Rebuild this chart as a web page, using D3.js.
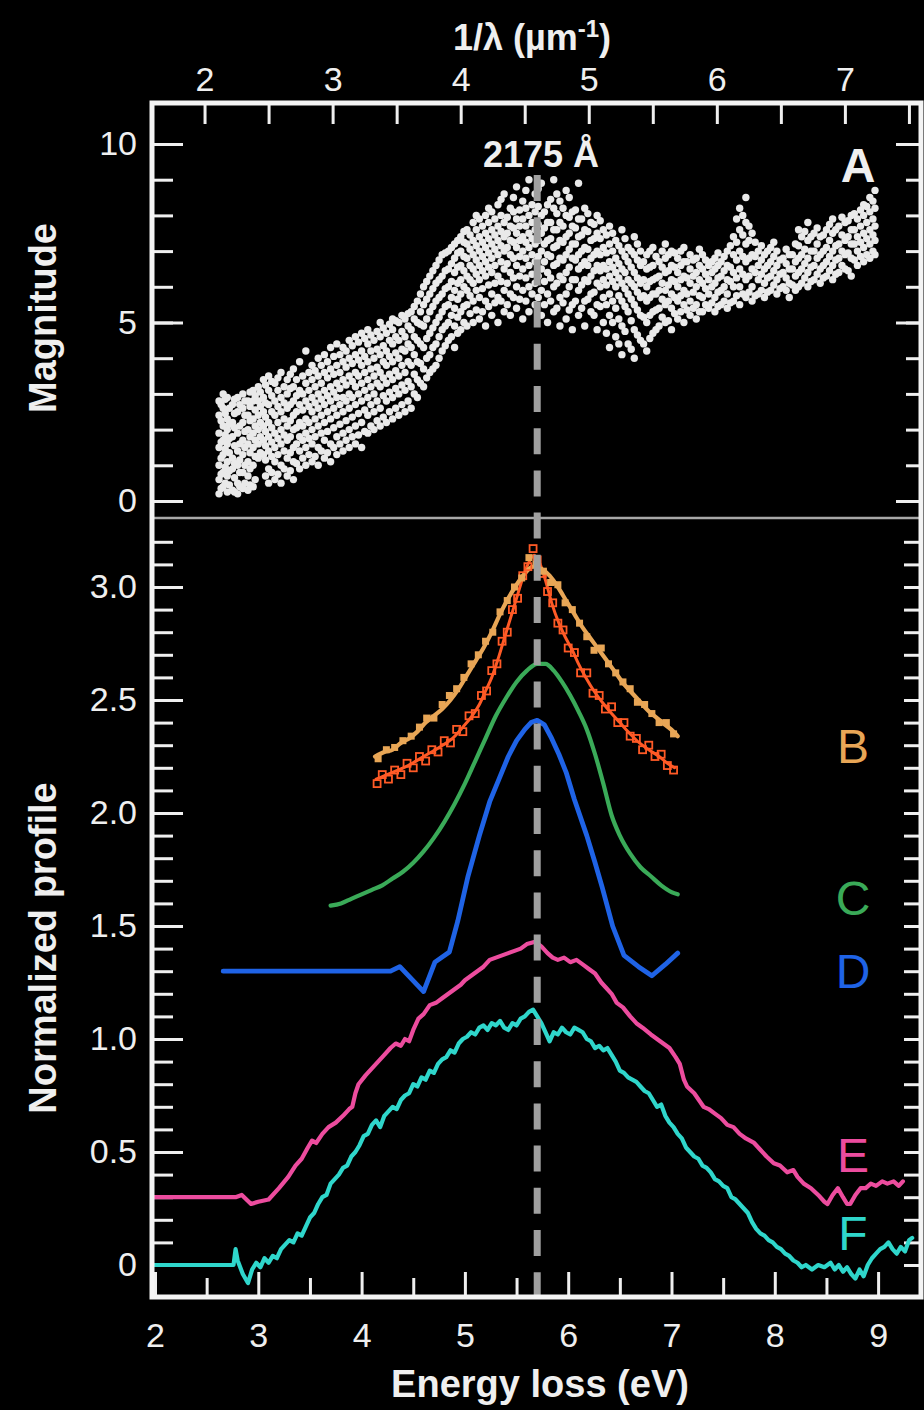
<!DOCTYPE html>
<html>
<head>
<meta charset="utf-8">
<script src="https://cdn.jsdelivr.net/npm/d3@7"></script>
<style>
  html, body { margin: 0; padding: 0; background: #000; }
  svg { display: block; }
</style>
</head>
<body>
<div id="chart"></div>
<script>

// ---- data ----

const energyTicks = [2, 3, 4, 5, 6, 7, 8, 9];
const invLambdaTicks = [2, 3, 4, 5, 6, 7];
const magnitudeTicks = [0, 5, 10];
const profileTicks = [0, 0.5, 1.0, 1.5, 2.0, 2.5, 3.0];
const seriesNames = ["B", "C", "D", "E", "F"];

// panel A scatter, one column per energy (eV): magnitudes
const magnitudeCols = [
  [2.62, [0.2, 0.6, 1.0, 1.5, 1.9, 2.4, 2.8]],
  [2.66, [0.4, 0.8, 1.3, 1.7, 2.1, 2.6, 3.0]],
  [2.70, [0.25, 0.7, 1.1, 1.6, 2.0, 2.3, 2.9]],
  [2.75, [0.3, 0.9, 1.2, 1.8, 2.2, 2.7]],
  [2.80, [0.2, 0.5, 1.0, 1.4, 1.9, 2.5, 2.9]],
  [2.85, [0.35, 0.8, 1.3, 1.7, 2.2, 2.6, 3.0]],
  [2.90, [0.3, 0.7, 1.1, 1.6, 2.0, 2.4, 2.8]],
  [2.95, [0.4, 1.0, 1.5, 1.9, 2.3, 2.8, 3.1]],
  [3.00, [1.2, 1.6, 2.0, 2.4, 2.8, 3.2]],
  [3.05, [1.3, 1.7, 2.1, 2.5, 2.9, 3.4]],
  [3.10, [0.5, 0.9, 1.4, 1.8, 2.2, 2.7, 3.1, 3.5]],
  [3.16, [0.6, 1.1, 1.5, 1.9, 2.4, 2.8, 3.3]],
  [3.22, [0.5, 1.0, 1.6, 2.0, 2.5, 2.9, 3.6]],
  [3.28, [0.7, 1.2, 1.7, 2.1, 2.6, 3.0, 3.4]],
  [3.34, [0.6, 1.1, 1.5, 2.0, 2.4, 2.8, 3.2, 3.7]],
  [3.40, [0.9, 1.4, 1.8, 2.2, 2.7, 3.1, 3.9]],
  [3.46, [1.0, 1.5, 1.9, 2.3, 2.8, 3.3, 4.2]],
  [3.52, [1.1, 1.6, 2.0, 2.5, 2.9, 3.4, 3.8]],
  [3.58, [1.0, 1.5, 2.1, 2.6, 3.0, 3.5, 4.0]],
  [3.64, [1.2, 1.7, 2.2, 2.7, 3.1, 3.6, 4.1]],
  [3.70, [1.1, 1.6, 2.3, 2.8, 3.2, 3.7, 4.3]],
  [3.76, [1.3, 1.8, 2.4, 2.9, 3.3, 3.8, 4.4]],
  [3.82, [1.4, 1.9, 2.5, 2.9, 3.4, 3.9, 4.3]],
  [3.88, [1.5, 2.0, 2.6, 3.0, 3.5, 4.0, 4.5]],
  [3.94, [1.6, 2.1, 2.7, 3.2, 3.6, 4.1, 4.6]],
  [4.00, [1.5, 2.2, 2.8, 3.3, 3.8, 4.2, 4.7]],
  [4.06, [1.9, 2.4, 2.9, 3.4, 3.9, 4.4, 4.8]],
  [4.12, [2.0, 2.5, 3.0, 3.5, 4.0, 4.5]],
  [4.18, [2.1, 2.6, 3.2, 3.6, 4.1, 4.6, 5.0]],
  [4.24, [2.2, 2.8, 3.3, 3.8, 4.2, 4.7]],
  [4.30, [2.3, 2.9, 3.4, 3.9, 4.4, 4.8, 5.1]],
  [4.36, [2.4, 3.0, 3.5, 4.0, 4.5, 5.0]],
  [4.42, [2.5, 3.1, 3.6, 4.2, 4.6, 5.1]],
  [4.48, [2.6, 3.2, 3.8, 4.3, 4.8, 5.3]],
  [4.54, [2.9, 3.4, 3.9, 4.5, 5.0, 5.6]],
  [4.60, [3.2, 3.7, 4.3, 4.9, 5.5, 6.0]],
  [4.66, [3.6, 4.1, 4.7, 5.3, 5.8, 6.3]],
  [4.72, [3.8, 4.4, 5.0, 5.6, 6.1, 6.6]],
  [4.78, [4.2, 4.8, 5.3, 5.8, 6.3, 6.9]],
  [4.84, [4.5, 5.0, 5.5, 6.0, 6.5, 7.0]],
  [4.90, [4.3, 4.9, 5.4, 5.9, 6.4, 6.8, 7.2]],
  [4.96, [4.8, 5.3, 5.8, 6.2, 6.6, 7.0, 7.4]],
  [5.02, [4.9, 5.5, 5.9, 6.3, 6.8, 7.2, 7.6]],
  [5.08, [5.0, 5.6, 6.1, 6.5, 6.9, 7.3, 7.8]],
  [5.14, [5.1, 5.7, 6.2, 6.6, 7.0, 7.4, 7.9]],
  [5.20, [4.9, 5.6, 6.3, 6.7, 7.1, 7.5, 8.0]],
  [5.26, [5.2, 5.8, 6.4, 6.8, 7.2, 7.6, 8.1]],
  [5.32, [5.0, 5.7, 6.3, 6.9, 7.3, 7.7, 8.3]],
  [5.38, [5.3, 5.9, 6.5, 7.0, 7.4, 7.8, 8.6]],
  [5.44, [5.2, 5.8, 6.4, 6.9, 7.3, 7.7, 8.2]],
  [5.50, [5.4, 6.0, 6.6, 7.1, 7.5, 7.9, 8.8]],
  [5.56, [5.1, 5.9, 6.5, 7.0, 7.4, 7.9, 8.4]],
  [5.62, [5.3, 6.0, 6.6, 7.1, 7.5, 8.0, 9.0]],
  [5.68, [5.5, 6.1, 6.7, 7.2, 7.6, 8.1, 8.6]],
  [5.74, [5.2, 5.9, 6.5, 7.0, 7.5, 8.0, 8.9]],
  [5.80, [5.0, 5.8, 6.4, 6.9, 7.3, 7.8, 8.3]],
  [5.86, [5.3, 6.0, 6.6, 7.1, 7.6, 8.2, 9.0]],
  [5.92, [4.9, 5.7, 6.3, 6.8, 7.3, 7.8, 8.4]],
  [5.98, [5.1, 5.8, 6.4, 6.9, 7.4, 8.0, 8.7]],
  [6.04, [4.8, 5.5, 6.2, 6.8, 7.2, 7.7, 8.1]],
  [6.10, [5.2, 5.9, 6.5, 6.9, 7.4, 7.9, 8.9]],
  [6.16, [4.9, 5.6, 6.2, 6.7, 7.1, 7.6, 8.2]],
  [6.22, [5.3, 5.8, 6.3, 6.8, 7.3, 7.8]],
  [6.28, [4.8, 5.5, 6.1, 6.6, 7.0, 7.5, 8.0]],
  [6.34, [5.0, 5.7, 6.2, 6.6, 7.1, 7.6]],
  [6.40, [4.3, 5.2, 5.8, 6.3, 6.7, 7.2, 7.7]],
  [6.46, [4.6, 5.4, 6.0, 6.4, 6.8, 7.3]],
  [6.52, [4.1, 4.9, 5.6, 6.1, 6.5, 7.0, 7.6]],
  [6.58, [4.4, 5.3, 5.8, 6.2, 6.7, 7.1]],
  [6.64, [4.0, 4.8, 5.5, 6.0, 6.4, 6.9, 7.4]],
  [6.70, [4.5, 5.2, 5.7, 6.1, 6.6, 7.0]],
  [6.76, [4.2, 5.0, 5.6, 6.0, 6.5, 6.9]],
  [6.82, [4.7, 5.3, 5.8, 6.2, 6.6, 7.1]],
  [6.88, [4.9, 5.4, 5.9, 6.3, 6.7]],
  [6.94, [5.0, 5.5, 5.9, 6.4, 6.8, 7.2]],
  [7.00, [4.8, 5.4, 5.8, 6.2, 6.6, 7.0]],
  [7.06, [5.1, 5.6, 6.0, 6.4, 6.8]],
  [7.12, [5.0, 5.5, 5.9, 6.3, 6.7, 7.1]],
  [7.18, [5.2, 5.6, 6.1, 6.5, 6.9]],
  [7.24, [5.1, 5.5, 6.0, 6.4, 6.8]],
  [7.30, [5.3, 5.7, 6.1, 6.5, 6.9]],
  [7.36, [5.4, 5.8, 6.2, 6.6]],
  [7.42, [5.3, 5.7, 6.1, 6.5, 6.8]],
  [7.48, [5.5, 5.9, 6.3, 6.7]],
  [7.54, [5.4, 5.8, 6.2, 6.6, 7.0]],
  [7.60, [5.6, 6.0, 6.4, 6.9, 7.4]],
  [7.66, [5.5, 6.0, 6.5, 7.0, 7.6, 8.2]],
  [7.72, [5.7, 6.2, 6.7, 7.2, 7.8, 8.5]],
  [7.78, [5.6, 6.0, 6.5, 6.9, 7.5]],
  [7.84, [5.8, 6.2, 6.6, 7.0]],
  [7.90, [5.7, 6.1, 6.5, 6.9]],
  [7.96, [5.9, 6.3, 6.7, 7.1]],
  [8.02, [5.8, 6.2, 6.6, 7.0]],
  [8.08, [6.0, 6.4, 6.8]],
  [8.14, [5.7, 6.1, 6.5, 6.9]],
  [8.20, [5.9, 6.3, 6.7, 7.2]],
  [8.26, [6.1, 6.5, 6.9, 7.4]],
  [8.32, [6.0, 6.4, 6.8, 7.3, 7.8]],
  [8.38, [6.2, 6.6, 7.0, 7.5]],
  [8.44, [6.1, 6.5, 6.9, 7.4]],
  [8.50, [6.3, 6.7, 7.1, 7.6]],
  [8.56, [6.2, 6.6, 7.0, 7.5, 7.9]],
  [8.62, [6.4, 6.8, 7.2, 7.7]],
  [8.68, [6.5, 6.9, 7.3, 7.8]],
  [8.74, [6.3, 6.8, 7.2, 7.6, 8.0]],
  [8.80, [6.6, 7.0, 7.4, 7.9]],
  [8.86, [6.7, 7.1, 7.5, 8.0, 8.3]],
  [8.92, [6.8, 7.2, 7.6, 8.1, 8.5]],
  [8.97, [6.9, 7.3, 7.7, 8.2, 8.7]]
];

// second spectrum set, sampled between the columns above
const magnitudeCols2 = [
  [2.64, [0.35, 0.75, 1.2, 1.65, 2.25, 2.7]],
  [2.68, [0.5, 0.95, 1.45, 1.85, 2.45, 2.85]],
  [2.72, [0.45, 0.85, 1.35, 1.75, 2.15, 2.6]],
  [2.77, [0.25, 0.65, 1.05, 1.55, 2.05, 2.45, 2.85]],
  [2.82, [0.4, 0.8, 1.15, 1.6, 2.1, 2.7]],
  [2.87, [0.5, 1.0, 1.5, 1.95, 2.4, 2.8]],
  [2.92, [0.45, 0.9, 1.35, 1.8, 2.25, 2.65, 3.05]],
  [2.97, [0.6, 1.25, 1.7, 2.1, 2.55, 2.95]],
  [3.02, [1.35, 1.8, 2.2, 2.65, 3.05]],
  [3.07, [0.7, 1.15, 1.55, 1.95, 2.35, 2.75, 3.25]],
  [3.13, [0.8, 1.25, 1.65, 2.05, 2.5, 2.95, 3.35]],
  [3.19, [0.75, 1.3, 1.75, 2.2, 2.65, 3.1, 3.45]],
  [3.25, [0.9, 1.4, 1.85, 2.3, 2.75, 3.2]],
  [3.31, [0.85, 1.35, 1.8, 2.25, 2.7, 3.15, 3.55]],
  [3.37, [1.05, 1.6, 2.05, 2.5, 2.95, 3.4]],
  [3.43, [1.2, 1.7, 2.1, 2.55, 3.0, 3.5]],
  [3.49, [1.3, 1.75, 2.2, 2.65, 3.1, 3.6]],
  [3.55, [1.25, 1.8, 2.3, 2.75, 3.2, 3.65]],
  [3.61, [1.4, 1.9, 2.4, 2.85, 3.3, 3.8]],
  [3.67, [1.35, 1.95, 2.5, 2.95, 3.45, 3.9]],
  [3.73, [1.5, 2.05, 2.6, 3.05, 3.55, 4.05]],
  [3.79, [1.6, 2.15, 2.7, 3.15, 3.6, 4.1]],
  [3.85, [1.7, 2.25, 2.8, 3.25, 3.75, 4.2]],
  [3.91, [1.8, 2.35, 2.9, 3.35, 3.85, 4.35]],
  [3.97, [1.85, 2.45, 3.0, 3.5, 3.95, 4.45]],
  [4.03, [1.95, 2.55, 3.1, 3.6, 4.05, 4.55]],
  [4.09, [2.1, 2.7, 3.2, 3.7, 4.2, 4.65]],
  [4.15, [2.25, 2.8, 3.3, 3.75, 4.25, 4.75]],
  [4.21, [2.35, 2.95, 3.45, 3.9, 4.35, 4.85]],
  [4.27, [2.5, 3.05, 3.55, 4.05, 4.5, 4.95]],
  [4.33, [2.6, 3.15, 3.65, 4.15, 4.6, 5.05]],
  [4.39, [2.7, 3.25, 3.8, 4.25, 4.75, 5.2]],
  [4.45, [2.8, 3.35, 3.9, 4.4, 4.9, 5.25]],
  [4.51, [3.0, 3.55, 4.1, 4.6, 5.1, 5.45]],
  [4.57, [3.3, 3.85, 4.4, 4.95, 5.3, 5.8]],
  [4.63, [3.45, 4.0, 4.55, 5.1, 5.65, 6.15]],
  [4.69, [3.7, 4.3, 4.85, 5.45, 5.95, 6.45]],
  [4.75, [4.0, 4.6, 5.15, 5.7, 6.2, 6.75]],
  [4.81, [4.35, 4.9, 5.45, 5.95, 6.45, 6.95]],
  [4.87, [4.6, 5.2, 5.7, 6.15, 6.65, 7.1]],
  [4.93, [4.7, 5.15, 5.65, 6.1, 6.55, 6.95, 7.3]],
  [4.99, [5.0, 5.45, 6.0, 6.45, 6.85, 7.25, 7.55]],
  [5.05, [5.25, 5.75, 6.2, 6.6, 7.05, 7.45]],
  [5.11, [5.35, 5.9, 6.35, 6.75, 7.15, 7.6, 8.0]],
  [5.17, [5.3, 5.95, 6.45, 6.85, 7.25, 7.7]],
  [5.23, [5.45, 6.05, 6.55, 6.95, 7.35, 7.8, 8.2]],
  [5.29, [5.55, 6.1, 6.6, 7.05, 7.45, 7.9]],
  [5.35, [5.6, 6.15, 6.7, 7.15, 7.55, 8.0, 8.45]],
  [5.41, [5.5, 6.1, 6.65, 7.1, 7.5, 7.95]],
  [5.47, [5.7, 6.25, 6.8, 7.25, 7.65, 8.1, 8.5]],
  [5.53, [5.65, 6.3, 6.85, 7.3, 7.7, 8.15]],
  [5.59, [5.6, 6.25, 6.8, 7.25, 7.7, 8.2, 8.7]],
  [5.65, [5.8, 6.35, 6.9, 7.35, 7.8, 8.3]],
  [5.71, [5.7, 6.3, 6.85, 7.3, 7.75, 8.25, 8.75]],
  [5.77, [5.5, 6.15, 6.7, 7.2, 7.65, 8.1]],
  [5.83, [5.6, 6.25, 6.85, 7.35, 7.8, 8.45]],
  [5.89, [5.4, 6.1, 6.65, 7.15, 7.6, 8.05, 8.6]],
  [5.95, [5.55, 6.2, 6.75, 7.25, 7.7, 8.2]],
  [6.01, [5.35, 6.0, 6.55, 7.05, 7.5, 7.95, 8.5]],
  [6.07, [5.6, 6.2, 6.75, 7.2, 7.65, 8.15]],
  [6.13, [5.4, 6.05, 6.6, 7.0, 7.45, 7.9]],
  [6.19, [5.65, 6.15, 6.6, 7.05, 7.55, 8.05]],
  [6.25, [5.2, 5.85, 6.45, 6.9, 7.35, 7.75]],
  [6.31, [5.45, 6.0, 6.45, 6.9, 7.35, 7.85]],
  [6.37, [4.7, 5.5, 6.05, 6.5, 6.95, 7.45]],
  [6.43, [5.0, 5.6, 6.15, 6.55, 7.0, 7.5]],
  [6.49, [4.4, 5.1, 5.75, 6.25, 6.65, 7.15]],
  [6.55, [4.75, 5.45, 5.95, 6.4, 6.85, 7.35]],
  [6.61, [4.25, 5.05, 5.65, 6.1, 6.55, 7.0]],
  [6.67, [4.65, 5.35, 5.85, 6.25, 6.75, 7.2]],
  [6.73, [4.4, 5.15, 5.75, 6.2, 6.7]],
  [6.79, [4.55, 5.2, 5.7, 6.15, 6.55, 7.0]],
  [6.85, [4.8, 5.35, 5.8, 6.25, 6.85]],
  [6.91, [5.15, 5.65, 6.1, 6.55, 7.0]],
  [6.97, [5.05, 5.6, 6.05, 6.45, 6.9]],
  [7.03, [5.25, 5.7, 6.15, 6.55, 6.95]],
  [7.09, [5.3, 5.75, 6.2, 6.6, 7.0]],
  [7.15, [5.35, 5.8, 6.25, 6.7]],
  [7.21, [5.4, 5.85, 6.3, 6.75]],
  [7.27, [5.3, 5.75, 6.2, 6.6, 7.05]],
  [7.33, [5.5, 5.95, 6.35, 6.75]],
  [7.39, [5.55, 6.0, 6.4, 6.7]],
  [7.45, [5.45, 5.85, 6.25, 6.6, 6.95]],
  [7.51, [5.6, 6.0, 6.45, 6.85]],
  [7.57, [5.55, 6.15, 6.55, 7.15]],
  [7.63, [5.75, 6.25, 6.75, 7.25, 7.9]],
  [7.69, [5.8, 6.35, 6.85, 7.45, 8.0]],
  [7.75, [5.85, 6.3, 6.8, 7.3, 7.7]],
  [7.81, [5.75, 6.4, 6.85, 7.25]],
  [7.87, [5.9, 6.35, 6.75, 7.15]],
  [7.93, [5.85, 6.25, 6.6, 7.0]],
  [7.99, [6.05, 6.45, 6.85, 7.25]],
  [8.05, [5.95, 6.35, 6.75]],
  [8.11, [5.9, 6.25, 6.65, 7.05]],
  [8.17, [6.05, 6.5, 6.9]],
  [8.23, [6.0, 6.4, 6.8, 7.15, 7.6]],
  [8.29, [6.25, 6.65, 7.05, 7.55]],
  [8.35, [6.15, 6.55, 7.0, 7.4]],
  [8.41, [6.35, 6.8, 7.2, 7.65]],
  [8.47, [6.25, 6.6, 7.0, 7.45]],
  [8.53, [6.45, 6.85, 7.3, 7.75]],
  [8.59, [6.35, 6.75, 7.15, 7.6]],
  [8.65, [6.6, 7.0, 7.45, 7.95]],
  [8.71, [6.45, 6.95, 7.4, 7.85]],
  [8.77, [6.75, 7.2, 7.6, 8.05]],
  [8.83, [6.85, 7.25, 7.7, 8.15]],
  [8.89, [6.9, 7.35, 7.8, 8.25]],
  [8.95, [7.0, 7.45, 7.9, 8.4]]
];

// B: measured profile (filled squares) and its fit
const tanData = [
  [4.16, 2.24], [4.24, 2.28], [4.32, 2.29], [4.40, 2.32], [4.48, 2.34], [4.56, 2.38],
  [4.63, 2.42], [4.70, 2.42], [4.78, 2.48], [4.85, 2.52], [4.92, 2.55], [4.99, 2.60],
  [5.06, 2.66], [5.13, 2.70], [5.20, 2.76], [5.27, 2.80], [5.34, 2.89], [5.41, 2.94],
  [5.48, 3.00], [5.55, 3.04], [5.62, 3.13], [5.69, 3.10], [5.76, 3.07], [5.83, 3.02],
  [5.90, 3.01], [5.97, 2.93], [6.04, 2.90], [6.11, 2.84], [6.18, 2.78], [6.25, 2.72],
  [6.32, 2.73], [6.39, 2.66], [6.46, 2.62], [6.53, 2.58], [6.60, 2.55], [6.67, 2.49],
  [6.74, 2.48], [6.81, 2.44], [6.88, 2.40], [6.95, 2.40], [7.02, 2.35]
];
const tanFit = [
  [4.13, 2.25], [4.22, 2.27], [4.30, 2.28], [4.38, 2.31], [4.46, 2.33], [4.54, 2.36],
  [4.62, 2.40], [4.70, 2.43], [4.78, 2.46], [4.86, 2.50], [4.94, 2.55], [5.02, 2.61],
  [5.10, 2.67], [5.18, 2.73], [5.26, 2.80], [5.34, 2.88], [5.42, 2.95], [5.50, 3.01],
  [5.58, 3.06], [5.66, 3.09], [5.74, 3.08], [5.82, 3.05], [5.90, 3.00], [5.98, 2.94],
  [6.06, 2.88], [6.14, 2.82], [6.22, 2.77], [6.30, 2.72], [6.38, 2.67], [6.46, 2.62],
  [6.54, 2.57], [6.62, 2.53], [6.70, 2.49], [6.78, 2.45], [6.86, 2.42], [6.94, 2.39],
  [7.02, 2.36], [7.06, 2.34]
];

// B: second profile (open squares) and its fit
const orangeData = [
  [4.15, 2.13], [4.20, 2.17], [4.26, 2.15], [4.32, 2.19], [4.38, 2.17], [4.44, 2.22],
  [4.50, 2.20], [4.56, 2.25], [4.62, 2.23], [4.68, 2.28], [4.74, 2.27], [4.80, 2.32],
  [4.86, 2.31], [4.92, 2.37], [4.98, 2.36], [5.04, 2.43], [5.10, 2.44], [5.16, 2.52],
  [5.21, 2.54], [5.26, 2.63], [5.31, 2.66], [5.36, 2.76], [5.41, 2.80], [5.46, 2.90],
  [5.51, 2.95], [5.56, 3.05], [5.61, 3.09], [5.66, 3.17], [5.70, 3.12], [5.75, 3.06],
  [5.80, 2.98], [5.85, 2.93], [5.90, 2.84], [5.95, 2.81], [6.00, 2.73], [6.06, 2.71],
  [6.12, 2.62], [6.18, 2.62], [6.24, 2.53], [6.30, 2.52], [6.36, 2.46], [6.42, 2.47],
  [6.48, 2.40], [6.54, 2.40], [6.60, 2.34], [6.66, 2.33], [6.72, 2.28], [6.78, 2.30],
  [6.84, 2.25], [6.90, 2.26], [6.96, 2.21], [7.02, 2.19]
];
const orangeFit = [
  [4.14, 2.15], [4.30, 2.18], [4.45, 2.21], [4.60, 2.25], [4.75, 2.29], [4.88, 2.33],
  [4.98, 2.38], [5.07, 2.43], [5.14, 2.48], [5.20, 2.54], [5.26, 2.60], [5.32, 2.68],
  [5.38, 2.77], [5.44, 2.86], [5.50, 2.95], [5.56, 3.04], [5.62, 3.11], [5.67, 3.14],
  [5.72, 3.11], [5.78, 3.03], [5.84, 2.93], [5.91, 2.84], [5.97, 2.78], [6.04, 2.72],
  [6.10, 2.66], [6.17, 2.60], [6.25, 2.54], [6.33, 2.49], [6.42, 2.44], [6.50, 2.40],
  [6.60, 2.35], [6.69, 2.31], [6.78, 2.28], [6.88, 2.25], [6.96, 2.22], [7.03, 2.20]
];

const greenC = [
  [3.70, 1.59], [3.80, 1.60], [3.90, 1.62], [4.00, 1.64], [4.10, 1.66], [4.20, 1.68],
  [4.30, 1.71], [4.40, 1.74], [4.50, 1.78], [4.60, 1.83], [4.70, 1.89], [4.80, 1.96],
  [4.90, 2.04], [5.00, 2.13], [5.10, 2.23], [5.20, 2.33], [5.30, 2.43], [5.40, 2.51],
  [5.50, 2.58], [5.60, 2.63], [5.70, 2.66], [5.78, 2.66], [5.86, 2.63], [5.94, 2.58],
  [6.02, 2.52], [6.10, 2.45], [6.18, 2.37], [6.26, 2.26], [6.34, 2.13], [6.42, 1.99],
  [6.50, 1.90], [6.60, 1.82], [6.70, 1.76], [6.80, 1.72], [6.90, 1.68], [7.00, 1.65],
  [7.06, 1.64]
];

const blueD = [
  [2.66, 1.30], [3.50, 1.30], [4.28, 1.30], [4.37, 1.32], [4.60, 1.21], [4.71, 1.34],
  [4.85, 1.385], [4.93, 1.52], [5.03, 1.72], [5.14, 1.90], [5.24, 2.05], [5.33, 2.15],
  [5.42, 2.25], [5.50, 2.32], [5.58, 2.37], [5.64, 2.40], [5.70, 2.41], [5.77, 2.39],
  [5.84, 2.33], [5.91, 2.26], [5.98, 2.18], [6.06, 2.06], [6.18, 1.90], [6.26, 1.78],
  [6.33, 1.67], [6.43, 1.50], [6.54, 1.37], [6.68, 1.32], [6.81, 1.28], [6.94, 1.33],
  [7.06, 1.38]
];

const pinkE = [
  [1.97, 0.30], [2.40, 0.30], [2.78, 0.30], [2.84, 0.31], [2.93, 0.27], [3.00, 0.28],
  [3.10, 0.29], [3.20, 0.34], [3.29, 0.39], [3.36, 0.44], [3.42, 0.47], [3.48, 0.52],
  [3.52, 0.55], [3.56, 0.54], [3.62, 0.58], [3.68, 0.61], [3.75, 0.63], [3.82, 0.66],
  [3.88, 0.69], [3.91, 0.70], [3.94, 0.76], [3.97, 0.80], [4.04, 0.84], [4.10, 0.87],
  [4.16, 0.90], [4.22, 0.93], [4.28, 0.96], [4.33, 0.98], [4.38, 0.97], [4.42, 1.00],
  [4.46, 0.99], [4.50, 1.04], [4.55, 1.09], [4.60, 1.11], [4.66, 1.15], [4.72, 1.16],
  [4.78, 1.18], [4.84, 1.20], [4.90, 1.22], [4.96, 1.24], [5.00, 1.26], [5.06, 1.28],
  [5.12, 1.30], [5.18, 1.32], [5.24, 1.35], [5.30, 1.36], [5.36, 1.37], [5.42, 1.38],
  [5.48, 1.39], [5.54, 1.40], [5.60, 1.42], [5.68, 1.43], [5.74, 1.41], [5.80, 1.38],
  [5.85, 1.36], [5.90, 1.35], [5.96, 1.36], [6.02, 1.34], [6.08, 1.35], [6.14, 1.33],
  [6.20, 1.31], [6.26, 1.29], [6.32, 1.25], [6.36, 1.23], [6.42, 1.20], [6.47, 1.16],
  [6.53, 1.14], [6.60, 1.10], [6.66, 1.07], [6.72, 1.05], [6.80, 1.02], [6.86, 1.00],
  [6.92, 0.98], [6.98, 0.96], [7.04, 0.92], [7.08, 0.89], [7.12, 0.82], [7.15, 0.79],
  [7.22, 0.76], [7.31, 0.70], [7.36, 0.69], [7.42, 0.67], [7.48, 0.65], [7.54, 0.62],
  [7.60, 0.61], [7.66, 0.58], [7.72, 0.56], [7.80, 0.54], [7.86, 0.51], [7.92, 0.48],
  [7.99, 0.45], [8.05, 0.44], [8.12, 0.41], [8.18, 0.42], [8.22, 0.39], [8.28, 0.36],
  [8.35, 0.34], [8.42, 0.31], [8.48, 0.28], [8.51, 0.27], [8.56, 0.31], [8.61, 0.34],
  [8.66, 0.30], [8.70, 0.27], [8.73, 0.27], [8.78, 0.31], [8.83, 0.34], [8.88, 0.34],
  [8.93, 0.36], [8.98, 0.35], [9.04, 0.37], [9.09, 0.36], [9.15, 0.37], [9.20, 0.35],
  [9.24, 0.37]
];

const cyanF = [
  [1.97, 0.0], [2.40, 0.0], [2.76, 0.0], [2.78, 0.07], [2.80, 0.02], [2.85, -0.04],
  [2.90, -0.08], [2.94, -0.02], [2.98, 0.01], [3.02, -0.01], [3.06, 0.03], [3.10, 0.01],
  [3.14, 0.04], [3.18, 0.03], [3.22, 0.07], [3.26, 0.09], [3.30, 0.11], [3.34, 0.10],
  [3.38, 0.14], [3.42, 0.13], [3.46, 0.17], [3.50, 0.21], [3.54, 0.23], [3.58, 0.27],
  [3.62, 0.30], [3.66, 0.31], [3.70, 0.36], [3.74, 0.38], [3.78, 0.40], [3.82, 0.43],
  [3.86, 0.44], [3.90, 0.48], [3.94, 0.50], [3.98, 0.53], [4.02, 0.57], [4.06, 0.58],
  [4.10, 0.62], [4.14, 0.64], [4.18, 0.61], [4.22, 0.66], [4.26, 0.68], [4.30, 0.70],
  [4.34, 0.69], [4.38, 0.73], [4.42, 0.75], [4.46, 0.76], [4.50, 0.80], [4.54, 0.79],
  [4.58, 0.83], [4.62, 0.82], [4.66, 0.86], [4.70, 0.85], [4.74, 0.89], [4.78, 0.91],
  [4.82, 0.92], [4.86, 0.95], [4.90, 0.94], [4.94, 0.98], [4.98, 1.00], [5.02, 1.01],
  [5.06, 1.03], [5.10, 1.02], [5.14, 1.05], [5.18, 1.06], [5.22, 1.04], [5.26, 1.07],
  [5.30, 1.06], [5.34, 1.08], [5.38, 1.05], [5.42, 1.04], [5.46, 1.07], [5.50, 1.06],
  [5.54, 1.09], [5.58, 1.10], [5.62, 1.12], [5.66, 1.13], [5.70, 1.10], [5.74, 1.07],
  [5.78, 1.03], [5.82, 0.99], [5.86, 1.03], [5.90, 1.02], [5.94, 1.05], [5.98, 1.03],
  [6.02, 1.02], [6.06, 1.05], [6.10, 1.04], [6.14, 1.03], [6.18, 1.00], [6.22, 0.99],
  [6.26, 0.96], [6.30, 0.97], [6.34, 0.95], [6.38, 0.96], [6.42, 0.93], [6.46, 0.90],
  [6.50, 0.86], [6.54, 0.85], [6.58, 0.83], [6.62, 0.82], [6.66, 0.81], [6.70, 0.79],
  [6.74, 0.77], [6.78, 0.76], [6.82, 0.73], [6.86, 0.70], [6.90, 0.71], [6.94, 0.66],
  [6.98, 0.63], [7.02, 0.61], [7.06, 0.58], [7.10, 0.56], [7.14, 0.52], [7.18, 0.50],
  [7.22, 0.48], [7.26, 0.47], [7.30, 0.44], [7.34, 0.43], [7.38, 0.41], [7.42, 0.38],
  [7.46, 0.37], [7.50, 0.35], [7.54, 0.34], [7.58, 0.30], [7.62, 0.29], [7.66, 0.27],
  [7.70, 0.25], [7.74, 0.23], [7.78, 0.19], [7.82, 0.16], [7.86, 0.14], [7.90, 0.13],
  [7.94, 0.11], [7.98, 0.10], [8.02, 0.08], [8.06, 0.07], [8.10, 0.05], [8.14, 0.04],
  [8.18, 0.02], [8.22, 0.01], [8.26, -0.01], [8.30, 0.0], [8.36, -0.02], [8.42, 0.0],
  [8.48, -0.01], [8.54, 0.01], [8.58, -0.02], [8.62, 0.0], [8.66, -0.03], [8.70, -0.01],
  [8.74, -0.04], [8.78, -0.06], [8.82, -0.02], [8.86, -0.05], [8.90, 0.0], [8.94, 0.03],
  [8.98, 0.05], [9.02, 0.07], [9.06, 0.08], [9.10, 0.10], [9.14, 0.07], [9.18, 0.05],
  [9.22, 0.08], [9.26, 0.06], [9.30, 0.11], [9.33, 0.12]
];

const bumpEnergy = 5.70;   // 2175 Å

// ---- drawing ----

const W = 924, H = 1410;
const FONT = "'Liberation Sans', Arial, Helvetica, sans-serif";
const INK = "#efefef";
const frame = {left: 152, right: 921, top: 103, bottom: 1297, split: 518};

let x = d3.scaleLinear().domain([2, 9]).range([155, 878.1]);
let yMag = d3.scaleLinear().domain([0, 10]).range([501, 144]);
let yProf = d3.scaleLinear().domain([0, 3]).range([1265, 587]);
// 1/lambda in um^-1 -> eV
const EV_PER_INV_UM = 1.2398;
let xInv = d3.scaleLinear().domain([2, 7])
    .range([x(2 * EV_PER_INV_UM), x(7 * EV_PER_INV_UM)]);

let svg = d3.select("#chart").append("svg")
    .attr("width", W)
    .attr("height", H)
    .style("background", "#000");

svg.append("defs").append("clipPath")
    .attr("id", "plotClip")
    .append("rect")
    .attr("x", frame.left).attr("y", frame.top)
    .attr("width", frame.right - frame.left)
    .attr("height", frame.bottom - frame.top);

function styleAxis(g) {
    g.select(".domain").remove();
    g.selectAll("line").attr("stroke", INK).attr("stroke-width", 3);
    g.selectAll("text")
        .attr("fill", INK)
        .attr("font-size", 34)
        .attr("font-family", FONT);
}

// ticks first, the curves run over them

// panel A, left and right
svg.append("g").attr("transform", "translate(" + frame.left + ",0)")
    .call(d3.axisLeft(yMag).tickValues(d3.range(0, 11)).tickSize(-21).tickFormat(""))
    .call(styleAxis);
svg.append("g").attr("transform", "translate(" + frame.left + ",0)")
    .call(d3.axisLeft(yMag).tickValues(magnitudeTicks).tickSize(-31).tickPadding(15)
        .tickFormat(d3.format("d")))
    .call(styleAxis);
svg.append("g").attr("transform", "translate(" + frame.right + ",0)")
    .call(d3.axisRight(yMag).tickValues(d3.range(0, 11)).tickSize(-15).tickFormat(""))
    .call(styleAxis);
svg.append("g").attr("transform", "translate(" + frame.right + ",0)")
    .call(d3.axisRight(yMag).tickValues(magnitudeTicks).tickSize(-25).tickFormat(""))
    .call(styleAxis);

// lower panel, left and right
svg.append("g").attr("transform", "translate(" + frame.left + ",0)")
    .call(d3.axisLeft(yProf).tickValues(d3.range(0, 33).map(i => i / 10)).tickSize(-21).tickFormat(""))
    .call(styleAxis);
svg.append("g").attr("transform", "translate(" + frame.left + ",0)")
    .call(d3.axisLeft(yProf).tickValues(profileTicks).tickSize(-31).tickPadding(15)
        .tickFormat(d => d === 0 ? "0" : d3.format(".1f")(d)))
    .call(styleAxis);
svg.append("g").attr("transform", "translate(" + frame.right + ",0)")
    .call(d3.axisRight(yProf).tickValues(d3.range(0, 33).map(i => i / 10)).tickSize(-17).tickFormat(""))
    .call(styleAxis);

// energy axis (bottom)
svg.append("g").attr("transform", "translate(0," + frame.bottom + ")")
    .call(d3.axisBottom(x).tickValues(d3.range(2.5, 9.5, 1)).tickSize(-19).tickFormat(""))
    .call(styleAxis);
svg.append("g").attr("transform", "translate(0," + frame.bottom + ")")
    .call(d3.axisBottom(x).tickValues(energyTicks).tickSize(-25).tickPadding(26)
        .tickFormat(d3.format("d")))
    .call(styleAxis);

// 1/lambda axis (top)
svg.append("g").attr("transform", "translate(0," + frame.top + ")")
    .call(d3.axisTop(xInv).tickValues(d3.range(2.5, 8, 1)).tickSize(-21).tickFormat(""))
    .call(styleAxis);
svg.append("g").attr("transform", "translate(0," + frame.top + ")")
    .call(d3.axisTop(xInv).tickValues(invLambdaTicks).tickSize(-21).tickPadding(12)
        .tickFormat(d3.format("d")))
    .call(styleAxis);

let plot = svg.append("g").attr("clip-path", "url(#plotClip)");

// panel A scatter
let magPoints = [];
magnitudeCols.concat(magnitudeCols2)
    .forEach(c => c[1].forEach(m => magPoints.push([c[0], m])));

plot.append("g")
    .selectAll("circle")
    .data(magPoints)
    .enter()
    .append("circle")
    .attr("cx", d => x(d[0]))
    .attr("cy", d => yMag(d[1]))
    .attr("r", 3.7)
    .attr("fill", "#e9e9e9");

// separator between panels
svg.append("line")
    .attr("x1", frame.left).attr("x2", frame.right)
    .attr("y1", frame.split).attr("y2", frame.split)
    .attr("stroke", "#a8a8a8")
    .attr("stroke-width", 2.5);

let line = d3.line().x(d => x(d[0])).y(d => yProf(d[1]));
let smooth = d3.line().x(d => x(d[0])).y(d => yProf(d[1])).curve(d3.curveMonotoneX);

function drawPath(data, gen, color, width) {
    plot.append("path")
        .datum(data)
        .attr("d", gen)
        .attr("fill", "none")
        .attr("stroke", color)
        .attr("stroke-width", width)
        .attr("stroke-linejoin", "round")
        .attr("stroke-linecap", "round");
}

drawPath(cyanF, line, "#2fd6cb", 4.2);
drawPath(pinkE, line, "#ec4c9e", 4.2);
drawPath(blueD, line, "#1f63e6", 4.8);
drawPath(greenC, smooth, "#3aaa58", 4.2);
drawPath(orangeFit, smooth, "#ff5a26", 3);
drawPath(tanFit, smooth, "#e8a656", 4.2);

// orange open squares
plot.append("g")
    .selectAll("rect")
    .data(orangeData)
    .enter()
    .append("rect")
    .attr("x", d => x(d[0]) - 3.5)
    .attr("y", d => yProf(d[1]) - 3.5)
    .attr("width", 7)
    .attr("height", 7)
    .attr("fill", "none")
    .attr("stroke", "#ff5a26")
    .attr("stroke-width", 1.8);

// tan filled squares
plot.append("g")
    .selectAll("rect")
    .data(tanData)
    .enter()
    .append("rect")
    .attr("x", d => x(d[0]) - 3.5)
    .attr("y", d => yProf(d[1]) - 3.5)
    .attr("width", 7)
    .attr("height", 7)
    .attr("fill", "#e8a656");

// 2175 A marker
svg.append("line")
    .attr("x1", x(bumpEnergy)).attr("x2", x(bumpEnergy))
    .attr("y1", 175).attr("y2", frame.bottom)
    .attr("stroke", "#a0a0a0")
    .attr("stroke-width", 7)
    .attr("stroke-dasharray", "26,16.2");

// frame
svg.append("rect")
    .attr("x", frame.left).attr("y", frame.top)
    .attr("width", frame.right - frame.left)
    .attr("height", frame.bottom - frame.top)
    .attr("fill", "none")
    .attr("stroke", "#f4f4f4")
    .attr("stroke-width", 5);

// titles
function label(txt, px, py, size, weight, color) {
    return svg.append("text")
        .attr("x", px).attr("y", py)
        .attr("text-anchor", "middle")
        .attr("font-family", FONT)
        .attr("font-size", size)
        .attr("font-weight", weight)
        .attr("fill", color || INK)
        .text(txt);
}

let topTitle = svg.append("text")
    .attr("x", 532).attr("y", 50)
    .attr("text-anchor", "middle")
    .attr("font-family", FONT)
    .attr("font-size", 36)
    .attr("font-weight", "bold")
    .attr("fill", INK);
topTitle.append("tspan").text("1/\u03bb (\u00b5m");
topTitle.append("tspan").attr("dy", -13).attr("font-size", 24).text("-1");
topTitle.append("tspan").attr("dy", 13).text(")");

label("Energy loss (eV)", 540, 1397, 38, "bold");
label("Magnitude", 0, 0, 38, "bold")
    .attr("transform", "translate(56,318) rotate(-90)");
label("Normalized profile", 0, 0, 38, "bold")
    .attr("transform", "translate(56,948) rotate(-90)");

label("2175 \u00c5", 541, 167, 36, "bold");
label("A", 858, 182, 48, "bold");

// series letters
const seriesColors = ["#e8a656", "#3aaa58", "#1f63e6", "#ec4c9e", "#2fd6cb"];
const seriesBaselines = [763, 915, 988, 1172, 1250];
seriesNames.forEach((s, i) => {
    label(s, 853, seriesBaselines[i], 48, "normal", seriesColors[i]);
});

</script>
</body>
</html>
